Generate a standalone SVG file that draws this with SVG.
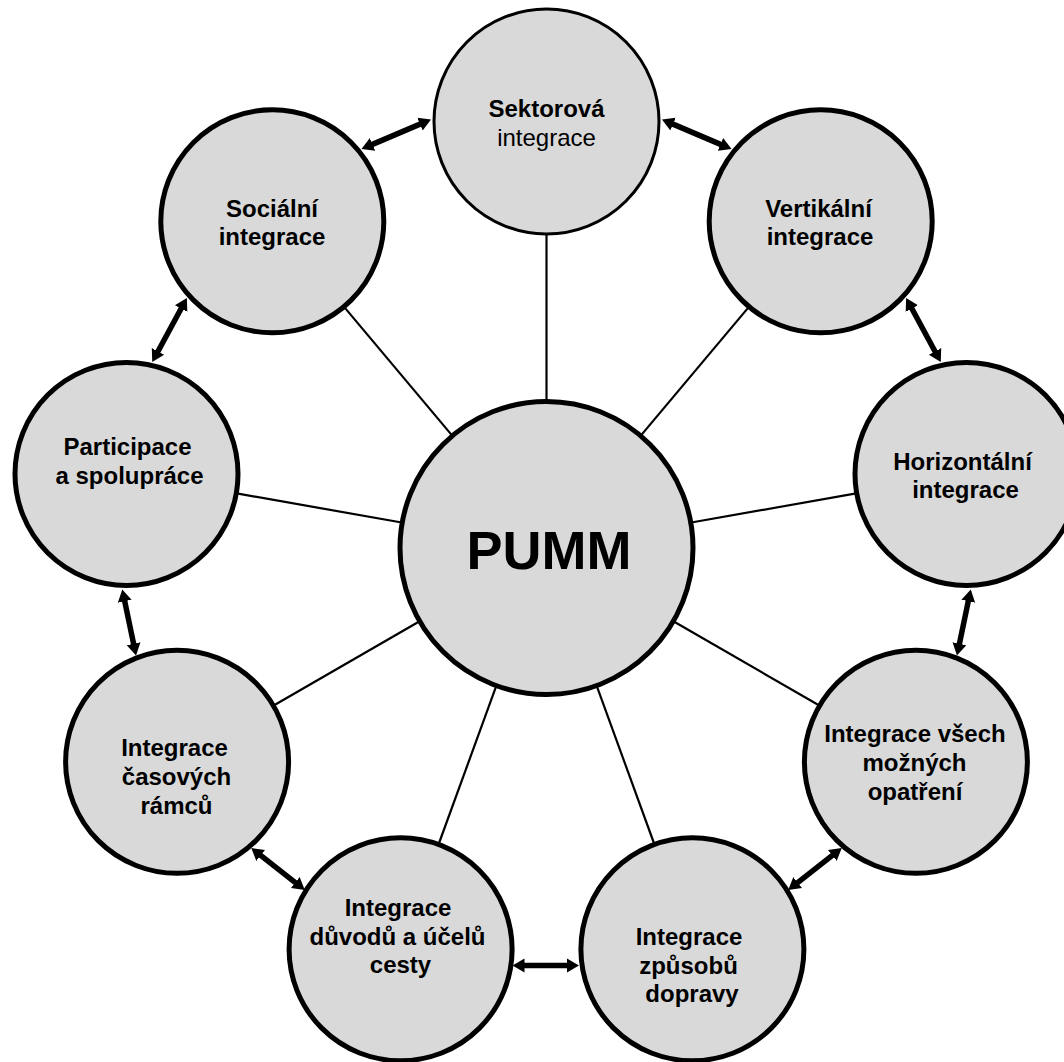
<svg xmlns="http://www.w3.org/2000/svg" width="1064" height="1062" viewBox="0 0 1064 1062">
  <style>
    .node { fill: #d9d9d9; stroke: #000; stroke-width: 5; }
    .node.thin { stroke-width: 3; }
    .spoke { stroke: #000; stroke-width: 2.2; fill: none; }
    .link { stroke: #000; stroke-width: 5.5; fill: none; marker-start: url(#head); marker-end: url(#head); }
    text { font-family: "Liberation Sans", Arial, sans-serif; font-size: 24px; text-anchor: middle; fill: #000; }
    .b { font-weight: bold; }
    .r { font-weight: normal; }
    .hub { font-size: 54px; font-weight: bold; }
  </style>
  <defs>
    <marker id="head" viewBox="0 -8 14 16" refX="2" refY="0" markerWidth="14" markerHeight="16" markerUnits="userSpaceOnUse" orient="auto-start-reverse">
      <path d="M0,-7 L12,0 L0,7 Z" fill="#000"/>
    </marker>
  </defs>
  <rect width="1064" height="1062" fill="#fff"/>

  <!-- spokes from the hub and double arrows between neighbours -->
  <g id="connectors">
    <line class="spoke" x1="546.5" y1="401" x2="546.5" y2="233.5"/>
    <line class="spoke" x1="641" y1="435.4" x2="748.7" y2="307.1"/>
    <line class="spoke" x1="452" y1="435.4" x2="344.3" y2="307.1"/>
    <line class="spoke" x1="691.3" y1="522.5" x2="856.2" y2="493.4"/>
    <line class="spoke" x1="401.7" y1="522.5" x2="236.8" y2="493.4"/>
    <line class="spoke" x1="673.8" y1="621.5" x2="818.9" y2="705.3"/>
    <line class="spoke" x1="419.2" y1="621.5" x2="274.1" y2="705.3"/>
    <line class="spoke" x1="596.8" y1="686.1" x2="654.1" y2="843.5"/>
    <line class="spoke" x1="496.2" y1="686.1" x2="438.9" y2="843.5"/>

    <line class="link" x1="370.7" y1="145.1" x2="421.8" y2="123.4"/>
    <line class="link" x1="671.2" y1="123.4" x2="722.3" y2="145.1"/>
    <line class="link" x1="182.1" y1="306.8" x2="157" y2="353.2"/>
    <line class="link" x1="910.9" y1="306.8" x2="936" y2="353.2"/>
    <line class="link" x1="124.3" y1="599.3" x2="134" y2="645.7"/>
    <line class="link" x1="968.7" y1="599.3" x2="959" y2="645.7"/>
    <line class="link" x1="259.1" y1="854.2" x2="296.9" y2="883.8"/>
    <line class="link" x1="833.9" y1="854.2" x2="796.1" y2="883.8"/>
    <line class="link" x1="522.5" y1="965.5" x2="569" y2="965.5"/>
  </g>

  <g id="node-pumm">
    <circle class="node" cx="546.5" cy="548" r="146.5"/>
    <text class="hub" x="549" y="569">PUMM</text>
  </g>

  <g id="node-sektorova">
    <circle class="node thin" cx="546.5" cy="121.5" r="112.5"/>
    <text class="b" x="546.5" y="116.5">Sektorová</text>
    <text class="r" x="546.5" y="146">integrace</text>
  </g>

  <g id="node-socialni">
    <circle class="node" cx="272.3" cy="221.3" r="111.5"/>
    <text class="b" x="272" y="216.5">Sociální</text>
    <text class="b" x="272" y="245">integrace</text>
  </g>

  <g id="node-vertikalni">
    <circle class="node" cx="820.7" cy="221.3" r="111.5"/>
    <text class="b" x="818.5" y="216.5">Vertikální</text>
    <text class="b" x="820" y="245">integrace</text>
  </g>

  <g id="node-participace">
    <circle class="node" cx="126.5" cy="473.9" r="111.5"/>
    <text class="b" x="127.5" y="455">Participace</text>
    <text class="b" x="129.5" y="483.5">a spolupráce</text>
  </g>

  <g id="node-horizontalni">
    <circle class="node" cx="966.5" cy="473.9" r="111.5"/>
    <text class="b" x="962.5" y="470">Horizontální</text>
    <text class="b" x="965.5" y="498">integrace</text>
  </g>

  <g id="node-casove-ramce">
    <circle class="node" cx="177.1" cy="761.8" r="111.5"/>
    <text class="b" x="174.5" y="755.5">Integrace</text>
    <text class="b" x="176.5" y="784.5">časových</text>
    <text class="b" x="176.5" y="813.5">rámců</text>
  </g>

  <g id="node-vsech-opatreni">
    <circle class="node" cx="915.9" cy="761.8" r="111.5"/>
    <text class="b" x="915" y="742">Integrace všech</text>
    <text class="b" x="914.5" y="771">možných</text>
    <text class="b" x="915" y="799.5">opatření</text>
  </g>

  <g id="node-duvody-ucely">
    <circle class="node" cx="400.6" cy="949.3" r="111.5"/>
    <text class="b" x="398" y="915.5">Integrace</text>
    <text class="b" x="397.5" y="944.5">důvodů a účelů</text>
    <text class="b" x="400.5" y="972.5">cesty</text>
  </g>

  <g id="node-zpusoby-dopravy">
    <circle class="node" cx="692.4" cy="949.3" r="111.5"/>
    <text class="b" x="689" y="944.5">Integrace</text>
    <text class="b" x="688.5" y="973.5">způsobů</text>
    <text class="b" x="692" y="1002">dopravy</text>
  </g>
</svg>
